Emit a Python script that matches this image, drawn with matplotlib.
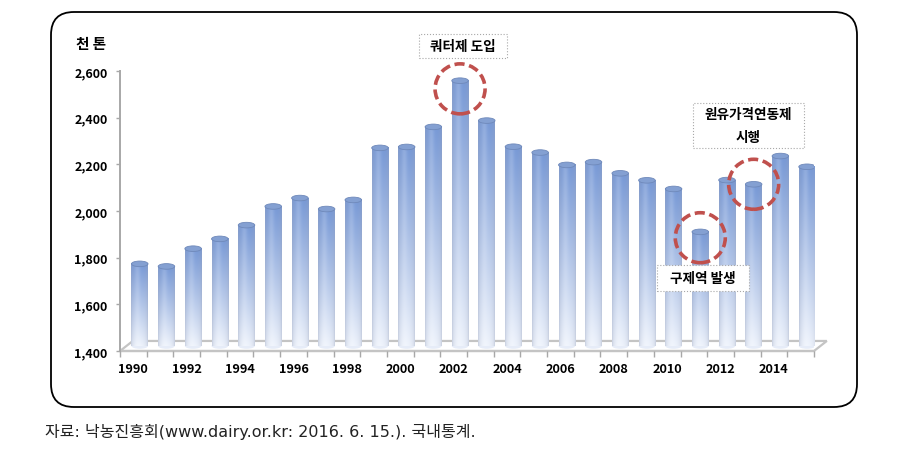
import numpy as np
import matplotlib
matplotlib.use("Agg")
import matplotlib.pyplot as plt
from matplotlib.patches import Ellipse, Polygon, FancyBboxPatch, Rectangle

plt.rcParams['font.family'] = ['Noto Sans CJK KR', 'DejaVu Sans']

# data (thousand tons of raw milk)
years = list(range(1990, 2016))
production = [1752, 1741, 1817, 1859, 1918, 1998, 2034, 1987, 2026, 2249,
              2253, 2339, 2537, 2366, 2254, 2229, 2176, 2188, 2140, 2110,
              2073, 1889, 2111, 2093, 2214, 2168]
y_ticks = [1400, 1600, 1800, 2000, 2200, 2400, 2600]
unit_label = '천 톤'
notes = ['쿼터제 도입', '구제역 발생', '원유가격연동제\n시행']
note_years = [2002, 2011, 2013]
source = '자료: 낙농진흥회(www.dairy.or.kr: 2016. 6. 15.). 국내통계.'

W, H = 916, 460


def fx(x):
    return x / W


def fy(y):
    return 1 - y / H


fig = plt.figure(figsize=(9.16, 4.6), dpi=100)

# outer rounded frame
frame = FancyBboxPatch((fx(51), fy(408)), fx(857) - fx(51), fy(13) - fy(408),
                       boxstyle='round,pad=0,rounding_size=0.025',
                       transform=fig.transFigure, fc='none', ec='black', lw=1.3,
                       mutation_aspect=W / H)
fig.patches.append(frame)

ax = fig.add_axes([fx(120), fy(352), fx(814) - fx(120), fy(72) - fy(352)])
ax.set_facecolor('none')
n = len(years)
ymin, ymax = y_ticks[0], y_ticks[-1]

# 3d depth offsets
dx, dy = 0.48, 43

# floor
floor = Polygon([(0, ymin), (n, ymin), (n + dx, ymin + dy), (dx, ymin + dy)],
                closed=True, fc='white', ec='#c4c4c4', lw=1.6, zorder=1, clip_on=False)
ax.add_patch(floor)

# cylinder gradient image
nx_, ny_ = 40, 100
u = np.linspace(-1, 1, nx_)
shade = np.sqrt(np.clip(1 - u ** 2, 0, 1))
hl = np.exp(-((u + 0.25) / 0.35) ** 2)
v = np.linspace(0, 1, ny_)[:, None]  # 0 top, 1 bottom
top_c = np.array([118, 152, 214]) / 255
bot_c = np.array([238, 243, 252]) / 255
base = top_c * (1 - v[..., None]) + bot_c * v[..., None]
edge_c = np.array([150, 160, 185]) / 255
f = (0.55 + 0.45 * shade)[None, :, None]
img = base * f + edge_c * (1 - f)
img = img + 0.18 * hl[None, :, None] * (1 - img)
img = np.clip(img, 0, 1)

bw = 0.62
cap_h = 24
for i, val in enumerate(production):
    xc = i + 0.5 + dx / 2
    b0 = ymin + dy / 2
    top = val + dy / 2
    ax.imshow(img, extent=[xc - bw / 2, xc + bw / 2, b0, top], aspect='auto',
              zorder=3, interpolation='bilinear')
    ax.add_patch(Ellipse((xc, b0), bw, cap_h, fc='#e6ecf8', ec='none', zorder=2.9))
    ax.add_patch(Ellipse((xc, top), bw, cap_h, fc='#84a0d2', ec='#6f89ba', lw=0.6,
                         zorder=4))

ax.set_xlim(0, n)
ax.set_ylim(ymin, ymax)

for s in ['top', 'right', 'bottom']:
    ax.spines[s].set_visible(False)
ax.spines['left'].set_color('#a8a8a8')
ax.spines['left'].set_linewidth(1.4)

ax.set_yticks(y_ticks)
ax.set_yticklabels([f'{t:,}' for t in y_ticks], fontsize=9, fontweight='bold')
ax.tick_params(axis='y', direction='out', length=3, width=1, color='#a8a8a8', pad=6)

ax.set_xticks(range(n + 1))
ax.set_xticklabels([])
ax.tick_params(axis='x', which='major', direction='out', length=4, width=1,
               color='#a8a8a8')
ax.set_xticks([i + 0.5 for i in range(n)], minor=True)
ax.set_xticklabels([str(y) if y % 2 == 0 else '' for y in years], minor=True,
                   fontsize=9.2, fontweight='bold')
ax.tick_params(axis='x', which='minor', length=0, pad=8)
ax.axhline(ymin, color='#c4c4c4', lw=1.6, zorder=1.5, clip_on=False)

# dashed circles around notable years
px_w = (fx(814) - fx(120)) * W / n
px_h = (fy(72) - fy(352)) * H / (ymax - ymin)
r_px = 25
circle_shift = [-35, -25, 0]
for yr, sh in zip(note_years, circle_shift):
    i = years.index(yr)
    xc = i + 0.5 + dx / 2
    yc = production[i] + dy / 2 + sh
    ax.add_patch(Ellipse((xc, yc), 2 * r_px / px_w, 2 * r_px / px_h, fc='none',
                         ec='#c0504d', lw=2.6, ls=(0, (2.8, 1.3)), zorder=6,
                         clip_on=False))

# note boxes (pixel extents: left, top, right, bottom)
note_boxes = [(419, 35, 507, 59), (657, 266, 749, 292), (693, 104, 804, 149)]
for txt, (l, t, r, b) in zip(notes, note_boxes):
    fig.patches.append(Rectangle((fx(l), fy(b)), fx(r) - fx(l), fy(t) - fy(b),
                                 transform=fig.transFigure, fc='white',
                                 ec='#a8a8a8', lw=0.8, ls=':', zorder=5))
    fig.text(fx((l + r) / 2), fy((t + b) / 2), txt, ha='center', va='center',
             fontsize=9.8, fontweight='bold', linespacing=1.75, zorder=6)

fig.text(fx(91), fy(44), unit_label, ha='center', va='center', fontsize=10.5,
         fontweight='bold')

fig.text(fx(45), fy(432), source, ha='left', va='center', fontsize=11.5,
         color='#222222', family=['DejaVu Sans', 'Noto Sans CJK KR'])

fig.savefig('out.png', dpi=100)
